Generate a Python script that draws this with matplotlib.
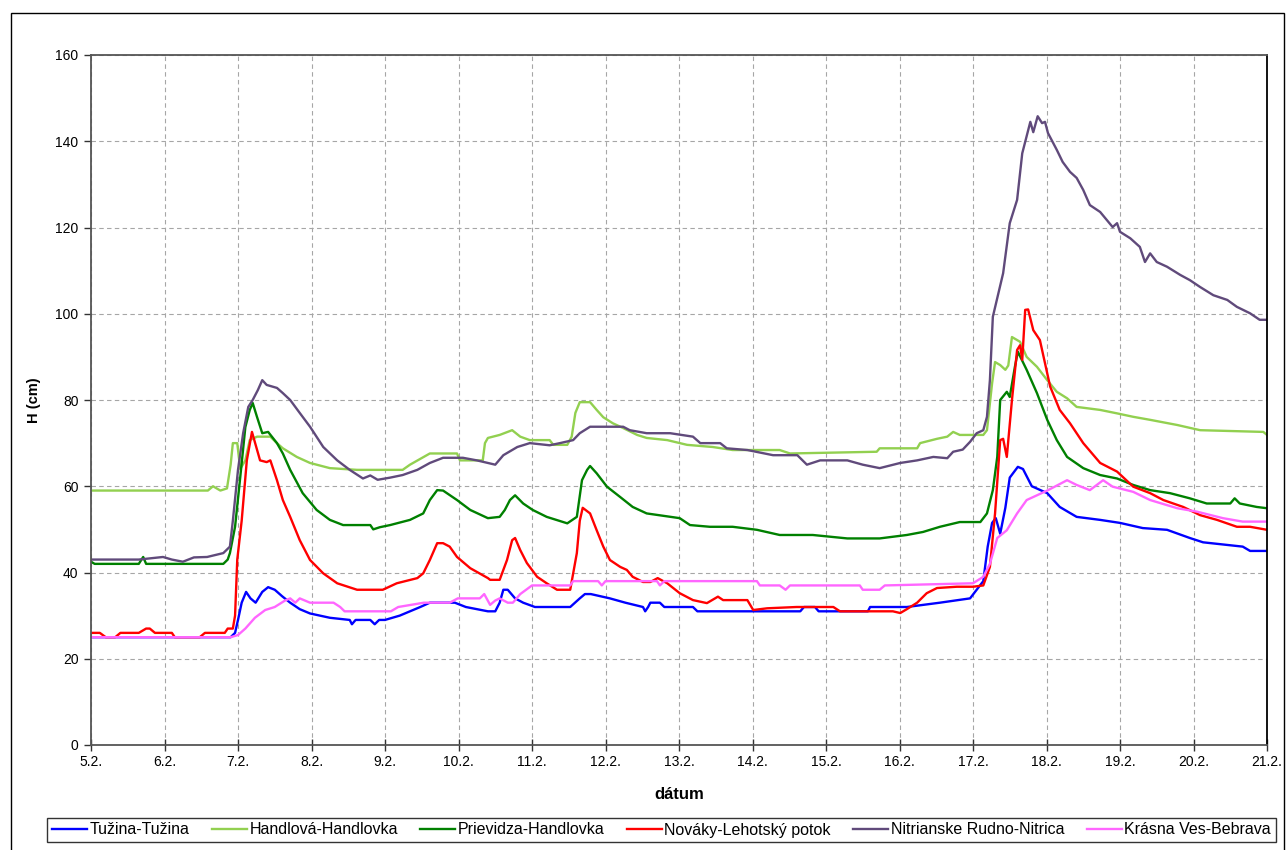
import matplotlib
matplotlib.use("Agg")
import matplotlib.pyplot as plt
from matplotlib.patches import Rectangle

# ---------------- data ----------------
day_ticks = list(range(5, 22))
day_labels = [f"{d}.2." for d in day_ticks]

names = ["Tužina-Tužina", "Handlová-Handlovka", "Prievidza-Handlovka",
         "Nováky-Lehotský potok", "Nitrianske Rudno-Nitrica", "Krásna Ves-Bebrava"]

tuzina_t = [5.00, 6.90, 6.96, 7.00, 7.05, 7.11, 7.17, 7.24, 7.33, 7.41, 7.50, 7.60, 7.71, 7.84, 7.98,
            8.25, 8.52, 8.55, 8.60, 8.80, 8.86, 8.92, 9.00, 9.20, 9.48, 9.61, 9.95, 10.10, 10.40, 10.50,
            10.56, 10.61, 10.67, 10.77, 10.88, 11.04, 11.52, 11.65, 11.72, 11.80, 12.06, 12.27, 12.51,
            12.54, 12.58, 12.61, 12.74, 12.80, 13.19, 13.25, 14.65, 14.70, 14.85, 14.90, 15.57, 15.60,
            16.10, 16.55, 16.96, 17.05, 17.14, 17.20, 17.26, 17.31, 17.37, 17.44, 17.50, 17.61, 17.68,
            17.80, 18.01, 18.18, 18.41, 18.73, 19.00, 19.31, 19.64, 19.95, 20.13, 20.67, 20.77, 21.00]
tuzina_v = [25, 25, 26, 29, 33, 35.5, 34, 33, 35.5, 36.6, 36, 34.5, 33, 31.5, 30.5,
            29.5, 29, 28, 29, 29, 28, 29, 29, 30, 32, 33, 33, 32, 31, 31,
            33, 36, 36, 34, 33, 32, 32, 34, 35, 35, 34, 33, 32,
            31, 32, 33, 33, 32, 32, 31, 31, 32, 32, 31, 31, 32,
            32, 33, 34, 36, 38, 46, 51.5, 52.6, 49, 55, 62, 64.5, 64,
            60, 58.4, 55.2, 52.9, 52.2, 51.5, 50.3, 49.9, 48, 47, 46, 45, 45]

handlova_t = [5.00, 6.59, 6.66, 6.76, 6.85, 6.90, 6.93, 6.99, 7.03, 7.10, 7.16, 7.26, 7.44, 7.53, 7.61,
              7.80, 7.98, 8.25, 8.62, 9.24, 9.34, 9.61, 9.98, 10.02, 10.33, 10.36, 10.40, 10.56, 10.73,
              10.84, 10.97, 11.24, 11.29, 11.48, 11.54, 11.59, 11.65, 11.79, 11.88, 11.97, 12.10, 12.24,
              12.43, 12.56, 12.84, 13.11, 13.46, 13.73, 14.37, 14.51, 15.69, 15.73, 16.24, 16.28, 16.51,
              16.65, 16.73, 16.82, 17.14, 17.19, 17.26, 17.30, 17.37, 17.44, 17.48, 17.53, 17.60, 17.64,
              17.73, 17.87, 18.01, 18.14, 18.28, 18.41, 18.73, 18.96, 19.18, 19.41, 19.78, 20.09, 20.95, 21.00]
handlova_v = [59, 59, 60, 59, 59.5, 65, 70, 70, 64, 66, 70.7, 71.5, 71.5, 70, 68.8,
              66.8, 65.4, 64.2, 63.8, 63.8, 65, 67.6, 67.6, 66, 66, 70, 71.2, 71.9, 73,
              71.5, 70.7, 70.7, 69.6, 69.6, 71.5, 77, 79.5, 79.5, 77.7, 76, 74.6, 73.5,
              71.9, 71.2, 70.7, 69.6, 69.1, 68.4, 68.4, 67.6, 68, 68.8, 68.8, 70, 71,
              71.5, 72.6, 71.9, 71.9, 73, 83.9, 88.8, 88.1, 87, 88, 94.6, 93.9, 93.5,
              90, 87.7, 84.6, 81.9, 80.4, 78.4, 77.7, 76.9, 76.1, 75.4, 74.2, 73, 72.6, 71.9]

prievidza_t = [5.00, 5.05, 5.65, 5.71, 5.75, 6.80, 6.86, 6.89, 6.96, 7.03, 7.10, 7.16, 7.20, 7.26, 7.33,
               7.41, 7.53, 7.61, 7.71, 7.88, 8.07, 8.25, 8.43, 8.80, 8.84, 8.93, 9.07, 9.34, 9.52, 9.61,
               9.71, 9.79, 9.98, 10.16, 10.40, 10.56, 10.63, 10.70, 10.77, 10.88, 11.01, 11.20, 11.48,
               11.61, 11.68, 11.75, 11.79, 11.88, 12.02, 12.20, 12.37, 12.56, 13.01, 13.15, 13.42, 13.73,
               14.06, 14.37, 14.82, 15.29, 15.73, 16.10, 16.32, 16.55, 16.82, 17.10, 17.19, 17.27, 17.33,
               17.37, 17.46, 17.50, 17.57, 17.61, 17.73, 17.87, 18.01, 18.14, 18.28, 18.50, 18.73, 18.96,
               19.18, 19.41, 19.68, 19.95, 20.18, 20.50, 20.56, 20.63, 20.86, 21.00]
prievidza_v = [42.5, 42, 42, 43.6, 42, 42, 43, 44.5, 50.6, 62, 73.7, 77.7, 79.3, 76, 72.3,
               72.6, 70, 67.6, 63.8, 58.4, 54.5, 52.2, 51, 51, 50, 50.5, 51, 52.2, 53.7, 56.8,
               59.1, 59, 56.8, 54.5, 52.6, 52.9, 54.5, 56.8, 57.9, 56, 54.5, 52.9, 51.4,
               52.9, 61.4, 63.8, 64.7, 63, 59.9, 57.5, 55.2, 53.7, 52.6, 51, 50.6, 50.6,
               49.9, 48.7, 48.7, 47.9, 47.9, 48.7, 49.4, 50.6, 51.7, 51.7, 53.7, 59.1, 66.8,
               80, 81.9, 80.7, 87.7, 91.2, 87, 81.6, 75.4, 70.7, 66.8, 64.2, 62.6, 61.8,
               60.3, 59.1, 58.4, 57.2, 56, 56, 57.2, 56, 55.2, 54.9]

novaky_t = [5.00, 5.12, 5.20, 5.33, 5.40, 5.65, 5.75, 5.80, 5.87, 6.10, 6.14, 6.48, 6.55, 6.82, 6.86,
            6.93, 6.96, 6.99, 7.05, 7.12, 7.19, 7.26, 7.30, 7.39, 7.44, 7.53, 7.61, 7.71, 7.84, 7.98,
            8.16, 8.35, 8.62, 8.97, 9.16, 9.44, 9.52, 9.61, 9.71, 9.79, 9.88, 9.98, 10.16, 10.40,
            10.43, 10.56, 10.66, 10.73, 10.77, 10.84, 10.93, 11.07, 11.20, 11.34, 11.52, 11.61, 11.65,
            11.69, 11.79, 11.88, 11.97, 12.06, 12.20, 12.29, 12.37, 12.51, 12.61, 12.71, 12.84, 13.01,
            13.19, 13.38, 13.53, 13.60, 13.93, 14.01, 14.20, 14.60, 15.10, 15.19, 15.91, 16.01, 16.10,
            16.24, 16.37, 16.51, 16.78, 17.00, 17.14, 17.23, 17.30, 17.37, 17.41, 17.46, 17.53, 17.60,
            17.64, 17.67, 17.71, 17.75, 17.82, 17.91, 18.05, 18.18, 18.32, 18.50, 18.73, 18.96, 19.18,
            19.41, 19.59, 19.86, 20.09, 20.32, 20.59, 20.77, 21.00]
novaky_v = [26, 26, 25, 25, 26, 26, 27, 27, 26, 26, 25, 25, 26, 26, 27,
            27, 30, 43, 52, 66, 72.6, 68.4, 66, 65.6, 66, 61.4, 56.8, 52.9, 47.5, 42.9,
            39.8, 37.5, 36, 36, 37.5, 38.7, 39.8, 42.9, 46.8, 46.8, 46, 43.6, 41, 38.7,
            38.3, 38.3, 42.9, 47.5, 48, 45.2, 42.2, 39, 37.5, 36, 36, 44.5, 52,
            55, 53.7, 49.8, 46, 42.9, 41.3, 40.6, 39, 37.8, 37.8, 38.7, 37.5, 35.2,
            33.6, 32.9, 34.4, 33.6, 33.6, 31.3, 31.7, 32, 32, 31, 31, 30.6, 31.5,
            33, 35.2, 36.4, 36.7, 36.7, 37, 41.3, 53.7, 70.7, 71, 66.8, 80, 91.6,
            92.7, 89.3, 100.9, 101, 96.2, 93.9, 83.1, 77.7, 74.6, 70, 65.4, 63.4, 59.9,
            58.4, 56.8, 55.2, 53.3, 52.2, 50.6, 50.6, 49.9]

rudno_t = [5.00, 5.65, 5.98, 6.10, 6.25, 6.40, 6.58, 6.80, 6.89, 6.93, 7.00, 7.07, 7.14, 7.20, 7.27,
           7.33, 7.39, 7.53, 7.61, 7.71, 7.84, 7.98, 8.16, 8.35, 8.52, 8.70, 8.80, 8.90, 9.07, 9.24,
           9.44, 9.61, 9.79, 10.06, 10.25, 10.50, 10.61, 10.80, 10.97, 11.24, 11.38, 11.56, 11.65,
           11.79, 12.24, 12.33, 12.56, 12.88, 13.19, 13.29, 13.56, 13.65, 13.93, 14.28, 14.61, 14.74,
           14.92, 15.29, 15.50, 15.73, 16.01, 16.24, 16.46, 16.65, 16.73, 16.86, 16.96, 17.05, 17.14,
           17.19, 17.23, 17.27, 17.41, 17.50, 17.60, 17.67, 17.78, 17.82, 17.88, 17.94, 17.98, 18.02,
           18.14, 18.22, 18.32, 18.41, 18.50, 18.59, 18.73, 18.90, 18.96, 19.00, 19.14, 19.27, 19.34,
           19.41, 19.50, 19.64, 19.82, 19.95, 20.09, 20.27, 20.46, 20.59, 20.77, 20.90, 21.00]
rudno_v = [43, 43, 43.6, 43, 42.5, 43.5, 43.6, 44.5, 46, 52, 63.8, 72.3, 78.4, 80, 82.3,
           84.6, 83.5, 82.8, 81.6, 80, 77, 73.8, 69.1, 66, 63.8, 61.8, 62.5, 61.5, 62, 62.6,
           63.8, 65.4, 66.6, 66.6, 66, 65, 67.2, 69.1, 70, 69.5, 70, 70.7, 72.3,
           73.8, 73.8, 73, 72.3, 72.3, 71.5, 70, 70, 68.8, 68.4, 67.2, 67.2, 65,
           66, 66, 65, 64.2, 65.4, 66, 66.8, 66.5, 68, 68.5, 70.3, 72.3, 73,
           76.1, 84.6, 99.3, 109.4, 121, 126.4, 137.2, 144.5, 142.1, 145.8, 144.2, 144.5, 141.9,
           138, 135.2, 132.9, 131.5, 128.7, 125.2, 123.6, 120.1, 121, 119, 117.5, 115.5, 112,
           114, 112, 110.9, 109, 107.8, 106.2, 104.3, 103.2, 101.6, 100.1, 98.6, 98.6]

krasna_t = [5.00, 6.90, 7.00, 7.10, 7.23, 7.37, 7.50, 7.64, 7.71, 7.78, 7.84, 7.98, 8.30, 8.39, 8.45,
            9.08, 9.18, 9.53, 9.88, 9.99, 10.29, 10.35, 10.43, 10.50, 10.56, 10.67, 10.74, 10.84, 11.00,
            11.52, 11.56, 11.90, 11.95, 12.00, 12.70, 12.74, 12.80, 14.06, 14.10, 14.37, 14.45, 14.51,
            15.46, 15.50, 15.73, 15.80, 17.00, 17.14, 17.23, 17.33, 17.46, 17.60, 17.73, 18.01, 18.28,
            18.41, 18.59, 18.77, 18.90, 19.18, 19.41, 19.78, 20.05, 20.40, 20.67, 21.00]
krasna_v = [25, 25, 25.5, 27, 29.5, 31.3, 32, 33.5, 34, 33, 34, 33, 33, 32, 31,
            31, 32, 33, 33, 34, 34, 35, 32.5, 33.5, 34, 33, 33, 35, 37,
            37, 38, 38, 37, 38, 38, 37, 38, 38, 37, 37, 36, 37,
            37, 36, 36, 37, 37.5, 39, 42, 48, 49.8, 53.7, 56.8, 59, 61.4,
            60.3, 59.1, 61.4, 59.9, 58.7, 56.8, 54.9, 54.1, 52.6, 51.8, 51.8]

colors = ["#0000FF", "#92D050", "#008000", "#FF0000", "#604A7B", "#FF66FF"]

series = [(tuzina_t, tuzina_v), (handlova_t, handlova_v), (prievidza_t, prievidza_v),
          (novaky_t, novaky_v), (rudno_t, rudno_v), (krasna_t, krasna_v)]

# ---------------- figure ----------------
plt.rcParams['font.family'] = ['Liberation Sans', 'DejaVu Sans']

W, H = 1286, 850
fig = plt.figure(figsize=(W / 100, H / 100), dpi=100)
fig.patches.append(Rectangle((11 / W, -0.01), (1284 - 11) / W, (H - 13) / H + 0.01,
                             transform=fig.transFigure, fill=False, edgecolor="black", lw=1.0))

ax = fig.add_axes([91 / W, 1 - 745 / H, (1267 - 91) / W, (745 - 55) / H])

for (t, v), c, n in zip(series, colors, names):
    ax.plot(t, v, color=c, lw=1.7, label=n, solid_joinstyle="round")

ax.set_xlim(5, 21)
ax.set_ylim(0, 160)
ax.set_xticks(day_ticks)
ax.set_xticklabels(day_labels)
ax.set_yticks(range(0, 161, 20))

ax.grid(True, color="#A6A6A6", lw=0.8, linestyle=(0, (4, 3)))
ax.set_axisbelow(True)

for s in ["left", "bottom", "top"]:
    ax.spines[s].set_color("#555555")
    ax.spines[s].set_linewidth(1.3)
ax.spines["right"].set_color("black")
ax.spines["right"].set_linewidth(1.3)

ax.tick_params(axis="y", direction="out", length=5, width=1, color="#333333",
               labelsize=10, pad=4)
ax.tick_params(axis="x", direction="inout", length=8, width=1, color="#333333",
               labelsize=10, pad=3)

ax.set_ylabel("H (cm)", fontsize=10.5, fontweight="bold", labelpad=10)
ax.set_xlabel("dátum", fontsize=12, fontweight="bold", labelpad=13)

leg = fig.legend(loc="center", bbox_to_anchor=(661.5 / W, 1 - 830 / H), ncol=6,
                 fontsize=11.5, frameon=True, fancybox=False, shadow=False,
                 handlelength=2.2, handletextpad=0.15, columnspacing=1.4,
                 borderpad=0.3, edgecolor="black")
leg.get_frame().set_linewidth(1.0)

fig.savefig("out.png", dpi=100)
